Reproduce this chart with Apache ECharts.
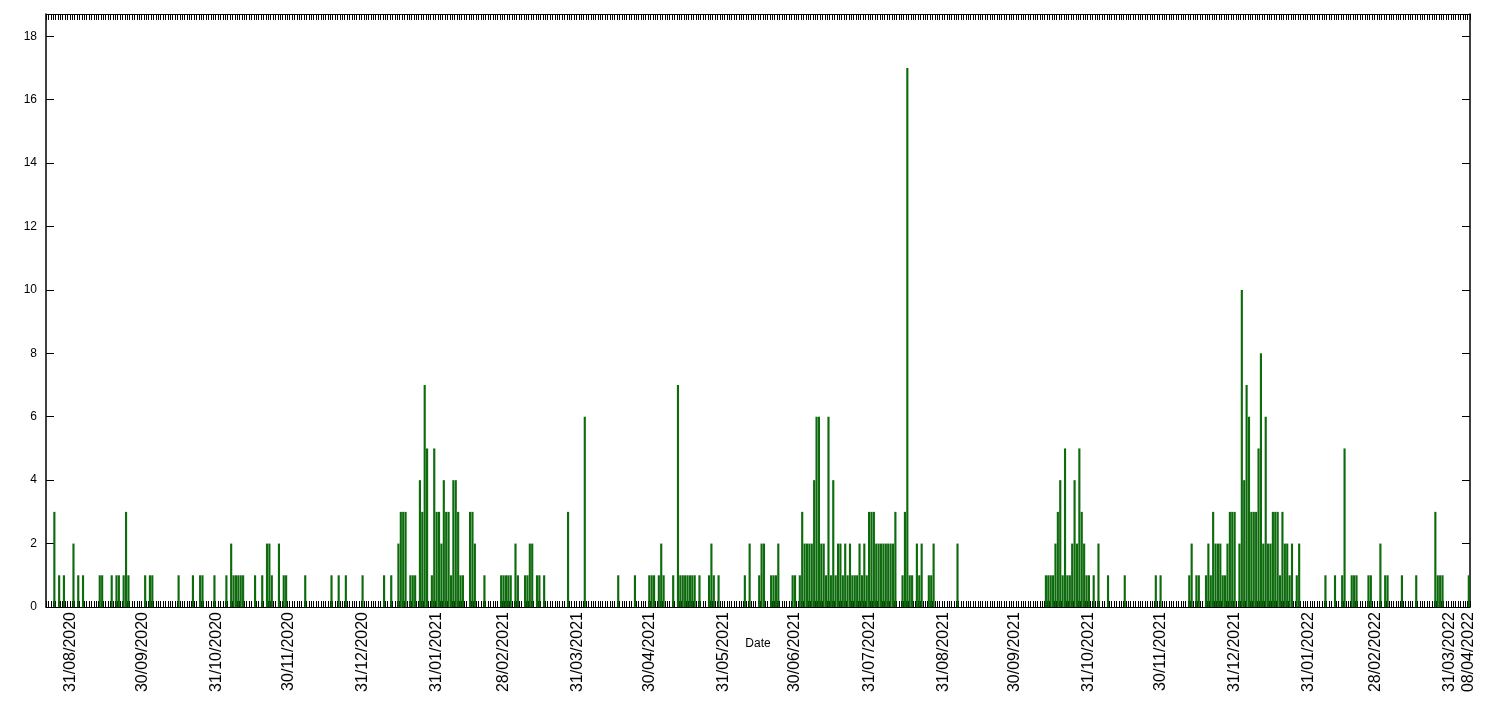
<!DOCTYPE html>
<html>
<head>
<meta charset="utf-8">
<script src="https://cdn.jsdelivr.net/npm/echarts@6/dist/echarts.min.js"></script>
<style>
  html, body { margin: 0; padding: 0; background: #fff; }
  #chart { width: 1512px; height: 720px; }
</style>
</head>
<body>
<div id="chart"></div>
<script>
// first day on the axis and number of days shown (21/08/2020 .. 08/04/2022)
var startDate = new Date(Date.UTC(2020, 7, 21));
var dayCount = 596;

// days (offset from startDate) that had a count, and the count on that day
var barDay = [3, 5, 7, 11, 13, 15, 22, 23, 27, 29, 30, 32, 33, 34, 41, 43, 44,
  55, 61, 64, 65, 70, 75, 77, 78, 79, 80, 81, 82, 87, 90, 92, 93, 94, 97,
  99, 100, 108, 119, 122, 125, 132, 141, 144, 147, 148, 149, 150,
  152, 153, 154, 156, 157, 158, 159, 161, 162, 163, 164, 165, 166, 167, 168, 169, 170, 171, 172, 173, 174, 177, 178, 179, 183,
  190, 191, 192, 193, 194, 196, 197, 200, 201, 202, 203, 205, 206, 208, 218, 225, 239, 246,
  252, 253, 254, 256, 257, 258, 262, 264, 265, 266, 267, 268, 269, 270, 271, 273, 277, 278, 279, 281, 292, 294,
  298, 299, 300, 303, 304, 305, 306, 312, 313, 315, 316, 317, 318, 319, 320, 321, 322, 323, 324, 325, 326, 327, 328,
  329, 330, 331, 332, 333, 334, 335, 336, 337, 338, 339, 340, 341, 342, 343, 344, 345, 346,
  347, 348, 349, 350, 351, 352, 353, 354, 355, 358, 359, 360, 361, 362, 364, 365, 366, 369, 370, 371, 381,
  418, 419, 420, 421, 422, 423, 424, 425, 426, 427, 428, 429, 430, 431, 432, 433, 434, 435, 436, 438, 440, 444,
  451, 464, 466, 478, 479, 481, 482, 485, 486, 487, 488, 489, 490, 491, 492, 493, 494, 495, 496, 497,
  499, 500, 501, 502, 503, 504, 505, 506, 507, 508, 509, 510, 511, 512, 513, 514, 515, 516, 517, 518, 519, 520, 521, 523, 524,
  535, 539, 542, 543, 546, 547, 548, 553, 554, 558, 560, 561, 567, 573, 581, 582, 583, 584, 595];
var barValue = [3, 1, 1, 2, 1, 1, 1, 1, 1, 1, 1, 1, 3, 1, 1, 1, 1,
  1, 1, 1, 1, 1, 1, 2, 1, 1, 1, 1, 1, 1, 1, 2, 2, 1, 2,
  1, 1, 1, 1, 1, 1, 1, 1, 1, 2, 3, 3, 3,
  1, 1, 1, 4, 3, 7, 5, 1, 5, 3, 3, 2, 4, 3, 3, 1, 4, 4, 3, 1, 1, 3, 3, 2, 1,
  1, 1, 1, 1, 1, 2, 1, 1, 1, 2, 2, 1, 1, 1, 3, 6, 1, 1,
  1, 1, 1, 1, 2, 1, 1, 7, 1, 1, 1, 1, 1, 1, 1, 1, 1, 2, 1, 1, 1, 2,
  1, 2, 2, 1, 1, 1, 2, 1, 1, 1, 3, 2, 2, 2, 2, 4, 6, 6, 2, 2, 1, 6, 1,
  4, 1, 2, 2, 1, 2, 1, 2, 1, 1, 1, 2, 1, 2, 1, 3, 3, 3,
  2, 2, 2, 2, 2, 2, 2, 2, 3, 1, 3, 17, 1, 1, 2, 1, 2, 1, 1, 2, 2,
  1, 1, 1, 1, 2, 3, 4, 1, 5, 1, 1, 2, 4, 2, 5, 3, 2, 1, 1, 1, 2, 1,
  1, 1, 1, 1, 2, 1, 1, 1, 2, 1, 3, 2, 2, 2, 1, 1, 2, 3, 3, 3,
  2, 10, 4, 7, 6, 3, 3, 3, 5, 8, 2, 6, 2, 2, 3, 3, 3, 1, 3, 2, 2, 1, 2, 1, 2,
  1, 1, 1, 5, 1, 1, 1, 1, 1, 2, 1, 1, 1, 1, 3, 1, 1, 1, 1];

// dates that carry a label on the x axis
var tickDates = ["31/08/2020", "30/09/2020", "31/10/2020", "30/11/2020", "31/12/2020",
  "31/01/2021", "28/02/2021", "31/03/2021", "30/04/2021", "31/05/2021", "30/06/2021",
  "31/07/2021", "31/08/2021", "30/09/2021", "31/10/2021", "30/11/2021", "31/12/2021",
  "31/01/2022", "28/02/2022", "31/03/2022", "08/04/2022"];

function fmt(d) {
  var dd = String(d.getUTCDate()).padStart(2, "0");
  var mm = String(d.getUTCMonth() + 1).padStart(2, "0");
  return dd + "/" + mm + "/" + d.getUTCFullYear();
}

var days = [];
var counts = [];
for (var i = 0; i < dayCount; i++) {
  days.push(fmt(new Date(startDate.getTime() + i * 86400000)));
  counts.push(0);
}
barDay.forEach(function (d, k) { counts[d] = barValue[k]; });

var tickSet = {};
tickDates.forEach(function (t) { tickSet[t] = true; });

var font = "Liberation Sans";
var chart = echarts.init(document.getElementById("chart"));
chart.setOption({
  animation: false,
  grid: { left: 46, right: 42, top: 14, bottom: 113 },
  xAxis: [
    {
      type: "category",
      data: days,
      name: "Date",
      nameLocation: "middle",
      nameGap: 31,
      nameMoveOverlap: false,
      nameTextStyle: { color: "#000", fontFamily: font, fontSize: 12 },
      axisLine: { onZero: false, lineStyle: { color: "#000", width: 1 } },
      axisTick: { show: true, interval: function () { return true; }, inside: true, length: 6, lineStyle: { color: "#000", width: 1 } },
      axisLabel: {
        interval: function (idx, val) { return !!tickSet[val]; },
        rotate: 90,
        margin: 5,
        color: "#000",
        fontFamily: font,
        fontSize: 16,
        hideOverlap: false
      },
      splitLine: { show: false }
    },
    {
      type: "category",
      data: days,
      position: "top",
      axisLine: { onZero: false, lineStyle: { color: "#000", width: 1 } },
      axisTick: { show: true, interval: function () { return true; }, inside: true, length: 6, lineStyle: { color: "#000", width: 1 } },
      axisLabel: { show: false },
      splitLine: { show: false }
    }
  ],
  yAxis: [
    {
      type: "value",
      min: 0,
      max: 18.7,
      interval: 2,
      axisLine: { show: true, lineStyle: { color: "#000", width: 1.5 } },
      axisTick: { show: true, inside: true, length: 8, lineStyle: { color: "#000" } },
      axisLabel: { color: "#000", fontFamily: font, fontSize: 12, margin: 9, showMaxLabel: false },
      splitLine: { show: false }
    },
    {
      type: "value",
      min: 0,
      max: 18.7,
      interval: 2,
      position: "right",
      axisLine: { show: true, lineStyle: { color: "#000", width: 1.5 } },
      axisTick: { show: true, inside: true, length: 8, lineStyle: { color: "#000" } },
      axisLabel: { show: false },
      splitLine: { show: false }
    }
  ],
  series: [
    {
      type: "bar",
      data: counts,
      barCategoryGap: "10%",
      itemStyle: { color: "#0d6b0d" }
    }
  ]
});
</script>
</body>
</html>
